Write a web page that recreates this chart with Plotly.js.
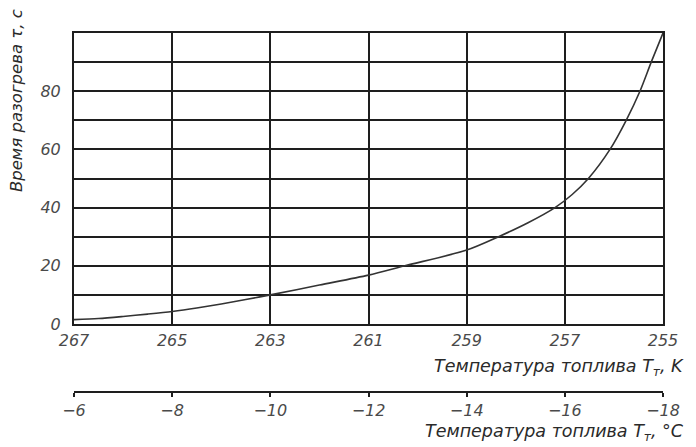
<!DOCTYPE html>
<html>
<head>
<meta charset="utf-8">
<script src="https://cdn.plot.ly/plotly-3.0.1.min.js"></script>
<style>html,body{margin:0;padding:0;background:#fff;}#chart{width:696px;height:447px;}</style>
</head>
<body>
<div id="chart"></div>
<script>
// Fuel temperature, K
const tempK = [267, 266.5, 266, 265.5, 265, 264.5, 264, 263.5, 263, 262, 261, 260.26, 259, 258.35, 257.75, 257.2, 256.85, 256.52, 256.08, 255.75, 255.47, 255.24, 255];
// Heating time, s
const heatTime = [1.5, 1.9, 2.6, 3.4, 4.3, 5.5, 6.9, 8.4, 10, 13.4, 16.8, 20, 25.4, 30, 34.8, 40, 44.5, 50, 60, 70, 80, 90, 100];

const kTicks = [267, 265, 263, 261, 259, 257, 255];
const cTicks = [-6, -8, -10, -12, -14, -16, -18];
const cTickText = ['\u22126', '\u22128', '\u221210', '\u221212', '\u221214', '\u221216', '\u221218'];
const yTicks = [0, 20, 40, 60, 80];

const xTitleK = 'Температура топлива T<sub>т</sub>, K';
const xTitleC = 'Температура топлива T<sub>т</sub>, °C';
const yTitle = 'Время разогрева τ, с';

const FONT = 'DejaVu Sans, sans-serif';
const tickFont = {family: FONT, size: 16, color: '#4a4a4a', style: 'italic'};
const titleFont = {family: FONT, size: 17.5, color: '#2a2a2a', style: 'italic'};
const yTitleFont = {family: FONT, size: 16.5, color: '#2a2a2a', style: 'italic'};

const traces = [
  {
    x: tempK, y: heatTime, type: 'scatter', mode: 'lines',
    line: {color: '#333', width: 1.6, shape: 'spline', smoothing: 0.8},
    hoverinfo: 'skip', showlegend: false
  },
  {
    x: cTicks, y: cTicks.map(() => null), xaxis: 'x2', yaxis: 'y',
    type: 'scatter', mode: 'markers', marker: {opacity: 0},
    hoverinfo: 'skip', showlegend: false
  }
];

const layout = {
  width: 696, height: 447,
  margin: {l: 74, r: 33, t: 33, b: 55},
  paper_bgcolor: '#fff', plot_bgcolor: '#fff',
  showlegend: false,
  xaxis: {
    range: [267, 255], tickvals: kTicks, ticktext: kTicks.map(String),
    showgrid: true, gridcolor: '#1e1e1e', gridwidth: 2,
    showline: true, linecolor: '#1e1e1e', linewidth: 2, mirror: true,
    zeroline: false, ticks: '', tickfont: tickFont, ticklabelstandoff: 1
  },
  xaxis2: {
    range: [-6, -18], tickvals: cTicks, ticktext: cTickText,
    overlaying: 'x', anchor: 'free', position: 0, side: 'bottom',
    showgrid: false, zeroline: false,
    showline: true, linecolor: '#1e1e1e', linewidth: 2,
    ticks: 'outside', ticklen: 4, tickwidth: 2, tickcolor: '#1e1e1e',
    tickfont: tickFont
  },
  yaxis: {
    domain: [0.1894, 1], range: [0, 100], tickvals: yTicks,
    showgrid: true, gridcolor: '#1e1e1e', gridwidth: 2,
    minor: {dtick: 10, showgrid: true, gridcolor: '#1e1e1e', gridwidth: 2, ticks: ''},
    showline: true, linecolor: '#1e1e1e', linewidth: 2, mirror: true,
    zeroline: false, ticks: '', tickfont: tickFont, ticklabelstandoff: 8
  },
  annotations: [
    {text: xTitleK, xref: 'paper', yref: 'paper', x: 1.039, y: 0.0696,
     xanchor: 'right', yanchor: 'middle', showarrow: false, font: titleFont},
    {text: xTitleC, xref: 'paper', yref: 'paper', x: 1.039, y: -0.114,
     xanchor: 'right', yanchor: 'middle', showarrow: false, font: titleFont},
    {text: yTitle, xref: 'paper', yref: 'paper', x: -0.0985, y: 0.813,
     xanchor: 'center', yanchor: 'middle', textangle: -90, showarrow: false, font: yTitleFont}
  ]
};

Plotly.newPlot('chart', traces, layout, {staticPlot: true, displayModeBar: false});
</script>
</body>
</html>
